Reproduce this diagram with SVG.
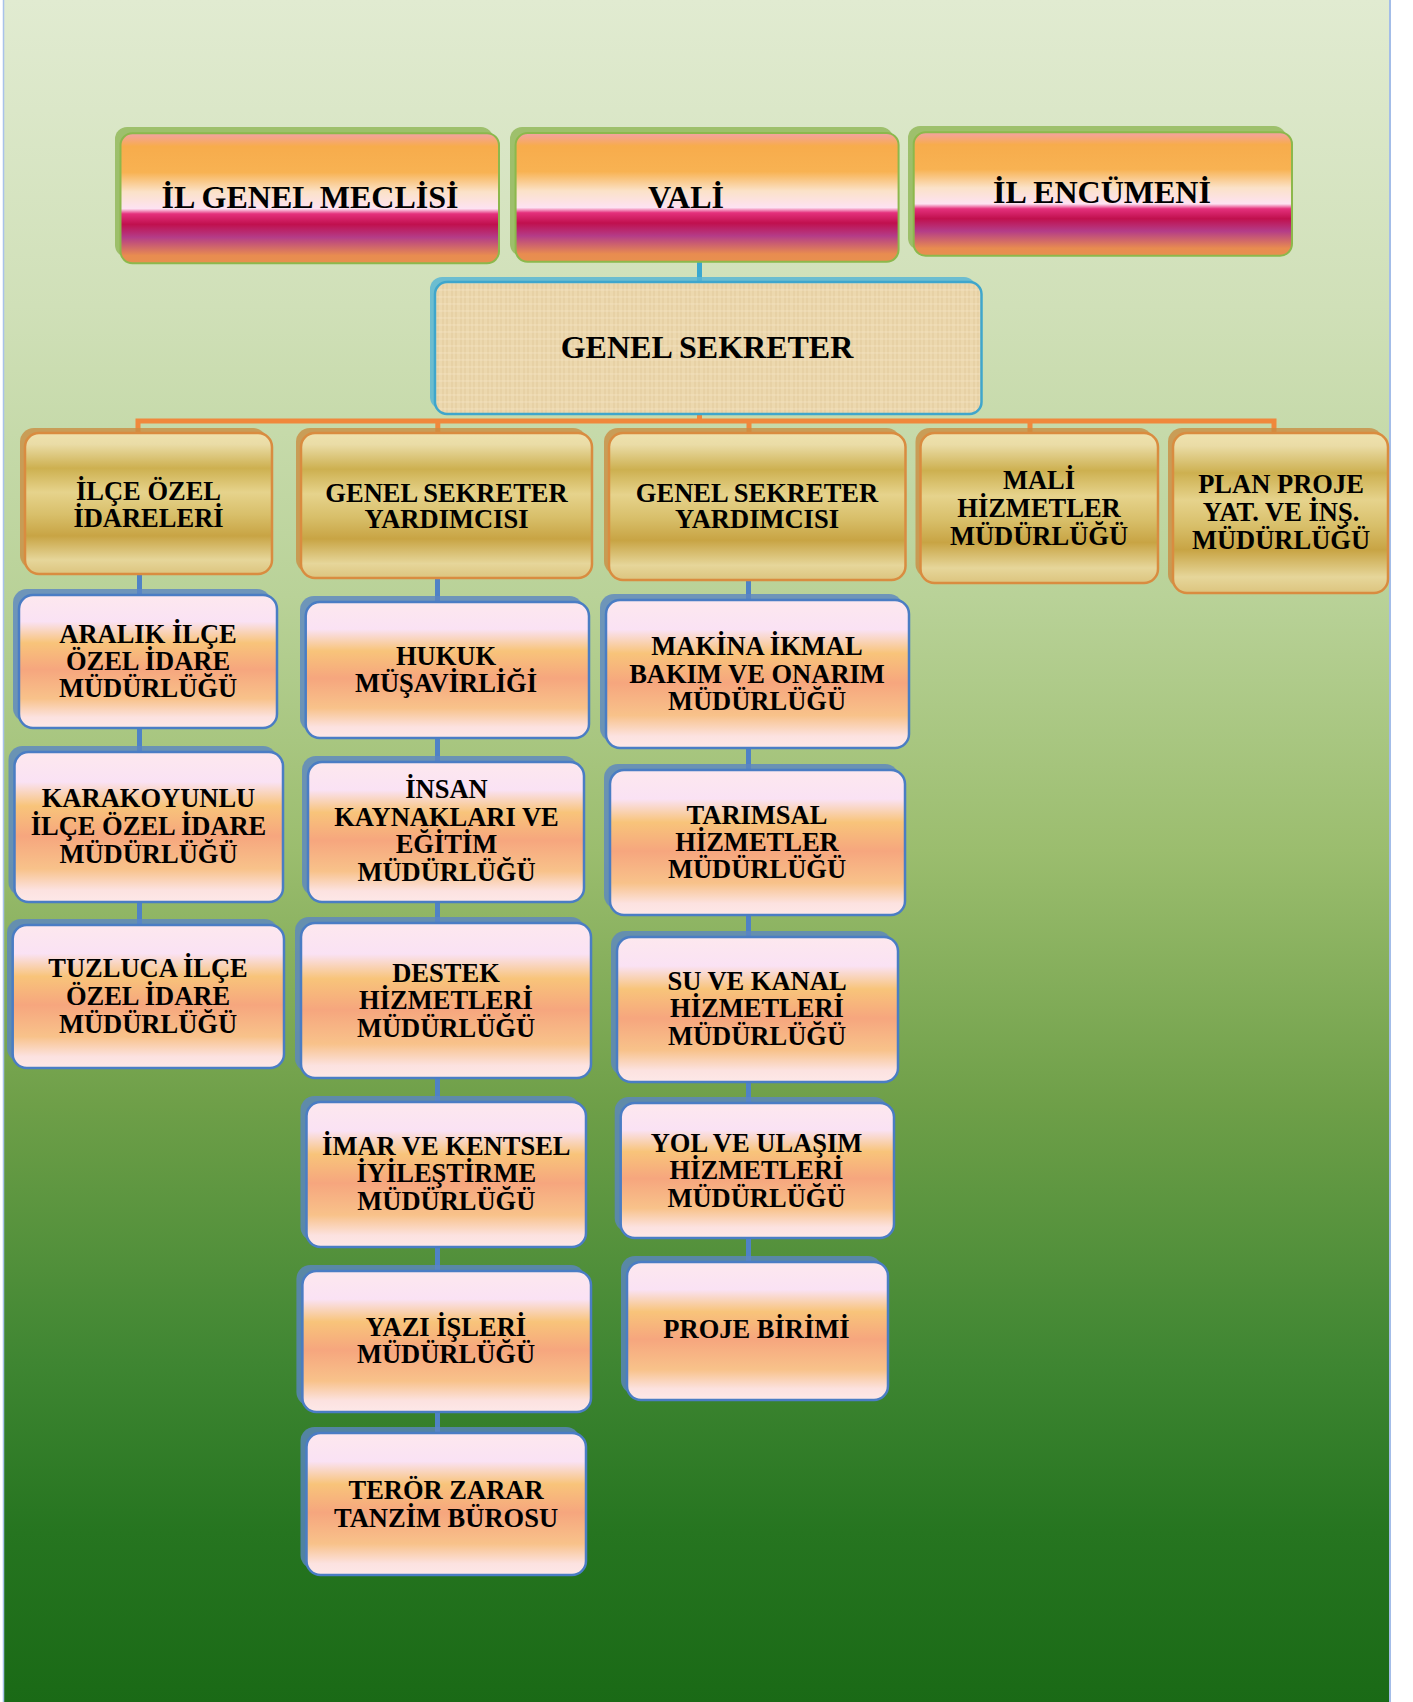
<svg xmlns="http://www.w3.org/2000/svg" width="1413" height="1702" viewBox="0 0 1413 1702">
<defs>
<linearGradient id="gBg" x1="0" y1="0" x2="0" y2="1">
<stop offset="0" stop-color="#e1ebd1"/>
<stop offset="0.18" stop-color="#d0e0b8"/>
<stop offset="0.35" stop-color="#b9d298"/>
<stop offset="0.5" stop-color="#9bbd6e"/>
<stop offset="0.65" stop-color="#6e9f48"/>
<stop offset="0.8" stop-color="#3f8632"/>
<stop offset="0.9" stop-color="#267520"/>
<stop offset="1" stop-color="#1a6a16"/>
</linearGradient>
<linearGradient id="gTop" x1="0" y1="0" x2="0" y2="1">
<stop offset="0" stop-color="#f4a2a4"/>
<stop offset="0.1" stop-color="#f7ac4c"/>
<stop offset="0.3" stop-color="#f8b252"/>
<stop offset="0.45" stop-color="#fbe2c8"/>
<stop offset="0.58" stop-color="#fde2f2"/>
<stop offset="0.62" stop-color="#e4307c"/>
<stop offset="0.7" stop-color="#c0104e"/>
<stop offset="0.8" stop-color="#b43c88"/>
<stop offset="0.94" stop-color="#e88c50"/>
<stop offset="1" stop-color="#e8904e"/>
</linearGradient>
<linearGradient id="gGold" x1="0" y1="0" x2="0" y2="1">
<stop offset="0" stop-color="#efe2ae"/>
<stop offset="0.08" stop-color="#eadca6"/>
<stop offset="0.25" stop-color="#cdb050"/>
<stop offset="0.42" stop-color="#e6d38c"/>
<stop offset="0.58" stop-color="#d8bf6a"/>
<stop offset="0.73" stop-color="#c8a444"/>
<stop offset="0.9" stop-color="#e6d69a"/>
<stop offset="1" stop-color="#dcc47e"/>
</linearGradient>
<linearGradient id="gPink" x1="0" y1="0" x2="0" y2="1">
<stop offset="0" stop-color="#fde8ee"/>
<stop offset="0.2" stop-color="#fae2f4"/>
<stop offset="0.36" stop-color="#f8c47a"/>
<stop offset="0.56" stop-color="#f6a67e"/>
<stop offset="0.78" stop-color="#f8c28a"/>
<stop offset="0.92" stop-color="#fce2e0"/>
<stop offset="1" stop-color="#fde8e8"/>
</linearGradient>
<pattern id="pPap" width="9" height="7" patternUnits="userSpaceOnUse">
<rect width="9" height="7" fill="#ecd8ae"/>
<path d="M2 0V7M6 0V7" stroke="#d6bc88" stroke-width="0.8" opacity="0.6"/>
<path d="M0 3H9" stroke="#f4e4c4" stroke-width="1" opacity="0.7"/>
</pattern>
<style>
.t{font-family:"Liberation Serif","Times New Roman",serif;font-weight:bold;text-anchor:middle;fill:#000;font-size:26.5px}
.tb{font-size:32px}
.top{fill:url(#gTop);stroke:#8cb84c;stroke-width:2}
.topS{fill:#93b95c;opacity:0.85}
.gold{fill:url(#gGold);stroke:#d98c40;stroke-width:2.5}
.goldS{fill:#c98d42;opacity:0.8}
.pink{fill:url(#gPink);stroke:#4a7dc4;stroke-width:2.5}
.pinkS{fill:#5b86c2;opacity:0.8}
.gs{fill:url(#pPap);stroke:#3fa6cc;stroke-width:2.5}
.gsS{fill:#5ab6d4;opacity:0.85}
.cb{stroke:#4f82c6;stroke-width:5;fill:none}
.co{stroke:#f0883c;stroke-width:5;fill:none}
.ct{stroke:#3aa8d0;stroke-width:5;fill:none}
</style>
</defs>
<rect x="0" y="0" width="1413" height="1702" fill="#ffffff"/>
<rect x="4" y="0" width="1386" height="1702" fill="url(#gBg)"/>
<line x1="3.5" y1="0" x2="3.5" y2="1702" stroke="#a9c2ea" stroke-width="1.5"/>
<line x1="1390" y1="0" x2="1390" y2="1702" stroke="#a3bde8" stroke-width="2"/>

<g id="connectors">
<path class="ct" d="M699.5 258V286"/>
<path class="co" d="M699.5 410V421"/>
<path class="co" d="M138 432V421H1274V432M437.8 421V434M749 421V434M1030 421V434"/>
<path class="cb" d="M139.5 570V598M139.5 724V755M139.5 898V928"/>
<path class="cb" d="M437.5 574V605M437.5 734V765M437.5 898V926M437.5 1074V1105M437.5 1243V1274M437.5 1408V1436"/>
<path class="cb" d="M748.5 576V603M748.5 744V773M748.5 911V940M748.5 1078V1106M748.5 1234V1265"/>
</g>

<g id="il-genel-meclisi">
<rect class="topS" x="115" y="127" width="378" height="130" rx="12"/>
<rect class="top" x="120.5" y="133.3" width="378.5" height="130" rx="12"/>
<text class="t tb" x="310" y="208.3">İL GENEL MECLİSİ</text>
</g>
<g id="vali">
<rect class="topS" x="510" y="127" width="383" height="129" rx="12"/>
<rect class="top" x="515.6" y="133" width="383" height="128.7" rx="12"/>
<text class="t tb" x="686" y="208">VALİ</text>
</g>
<g id="il-encumeni">
<rect class="topS" x="908" y="126" width="378" height="124" rx="12"/>
<rect class="top" x="913.7" y="132.3" width="378.3" height="123.4" rx="12"/>
<text class="t tb" x="1102" y="203.3">İL ENCÜMENİ</text>
</g>

<g id="genel-sekreter">
<rect class="gsS" x="430" y="277" width="546" height="132" rx="12"/>
<rect class="gs" x="435" y="282" width="546.5" height="132" rx="12"/>
<text class="t tb" x="707" y="358">GENEL SEKRETER</text>
</g>

<g id="ilce-ozel-idareleri">
<rect class="goldS" x="20" y="428" width="247" height="141" rx="14"/>
<rect class="gold" x="25" y="433" width="247" height="141" rx="14"/>
<text class="t"><tspan x="148.5" y="499.5">İLÇE ÖZEL</tspan><tspan x="148.5" y="526.7">İDARELERİ</tspan></text>
</g>
<g id="gsy-1">
<rect class="goldS" x="296" y="428" width="291" height="145" rx="14"/>
<rect class="gold" x="301" y="433" width="291" height="145" rx="14"/>
<text class="t"><tspan x="446.5" y="501.7">GENEL SEKRETER</tspan><tspan x="446.5" y="528.3">YARDIMCISI</tspan></text>
</g>
<g id="gsy-2">
<rect class="goldS" x="604" y="428" width="296.5" height="147" rx="14"/>
<rect class="gold" x="609" y="433" width="296.5" height="147" rx="14"/>
<text class="t"><tspan x="757" y="501.7">GENEL SEKRETER</tspan><tspan x="757" y="528.3">YARDIMCISI</tspan></text>
</g>
<g id="mali">
<rect class="goldS" x="915.5" y="428" width="237.5" height="150" rx="14"/>
<rect class="gold" x="920.5" y="433" width="237.5" height="150" rx="14"/>
<text class="t"><tspan x="1039" y="489.3">MALİ</tspan><tspan x="1039" y="517.3">HİZMETLER</tspan><tspan x="1039" y="545">MÜDÜRLÜĞÜ</tspan></text>
</g>
<g id="plan-proje">
<rect class="goldS" x="1168" y="428" width="215" height="160" rx="14"/>
<rect class="gold" x="1173" y="433" width="215" height="160" rx="14"/>
<text class="t"><tspan x="1281" y="493.3">PLAN PROJE</tspan><tspan x="1281" y="520.7">YAT. VE İNŞ.</tspan><tspan x="1281" y="549.3">MÜDÜRLÜĞÜ</tspan></text>
</g>

<g id="aralik">
<rect class="pinkS" x="13" y="589" width="258" height="133" rx="14"/>
<rect class="pink" x="19" y="595" width="258" height="133" rx="14"/>
<text class="t"><tspan x="148" y="642.7">ARALIK İLÇE</tspan><tspan x="148" y="670">ÖZEL İDARE</tspan><tspan x="148" y="696.7">MÜDÜRLÜĞÜ</tspan></text>
</g>
<g id="karakoyunlu">
<rect class="pinkS" x="8.5" y="746" width="268.5" height="150" rx="14"/>
<rect class="pink" x="14.5" y="752" width="268.5" height="150" rx="14"/>
<text class="t"><tspan x="148.5" y="806.7">KARAKOYUNLU</tspan><tspan x="148.5" y="835">İLÇE ÖZEL İDARE</tspan><tspan x="148.5" y="862.7">MÜDÜRLÜĞÜ</tspan></text>
</g>
<g id="tuzluca">
<rect class="pinkS" x="7" y="919" width="271.3" height="143" rx="14"/>
<rect class="pink" x="12.7" y="925" width="271.3" height="143" rx="14"/>
<text class="t"><tspan x="148" y="976.7">TUZLUCA İLÇE</tspan><tspan x="148" y="1005">ÖZEL İDARE</tspan><tspan x="148" y="1032.7">MÜDÜRLÜĞÜ</tspan></text>
</g>

<g id="hukuk">
<rect class="pinkS" x="300" y="596" width="283.3" height="136" rx="14"/>
<rect class="pink" x="305.7" y="602" width="283.3" height="136" rx="14"/>
<text class="t"><tspan x="446" y="665">HUKUK</tspan><tspan x="446" y="691.7">MÜŞAVİRLİĞİ</tspan></text>
</g>
<g id="insan-kaynaklari">
<rect class="pinkS" x="302" y="756" width="276" height="140" rx="14"/>
<rect class="pink" x="308" y="762" width="276" height="140" rx="14"/>
<text class="t"><tspan x="446.5" y="798.3">İNSAN</tspan><tspan x="446.5" y="826">KAYNAKLARI VE</tspan><tspan x="446.5" y="853.3">EĞİTİM</tspan><tspan x="446.5" y="881">MÜDÜRLÜĞÜ</tspan></text>
</g>
<g id="destek">
<rect class="pinkS" x="295" y="917" width="290" height="155" rx="14"/>
<rect class="pink" x="301" y="923" width="290" height="155" rx="14"/>
<text class="t"><tspan x="446" y="981.7">DESTEK</tspan><tspan x="446" y="1009.3">HİZMETLERİ</tspan><tspan x="446" y="1036.7">MÜDÜRLÜĞÜ</tspan></text>
</g>
<g id="imar">
<rect class="pinkS" x="300.5" y="1096" width="279.5" height="145" rx="14"/>
<rect class="pink" x="306.5" y="1102" width="279.5" height="145" rx="14"/>
<text class="t"><tspan x="446.3" y="1155">İMAR VE KENTSEL</tspan><tspan x="446.3" y="1181.7">İYİLEŞTİRME</tspan><tspan x="446.3" y="1210">MÜDÜRLÜĞÜ</tspan></text>
</g>
<g id="yazi-isleri">
<rect class="pinkS" x="296.4" y="1265" width="288.6" height="141" rx="14"/>
<rect class="pink" x="302.4" y="1271" width="288.6" height="141" rx="14"/>
<text class="t"><tspan x="446" y="1336">YAZI İŞLERİ</tspan><tspan x="446" y="1363.3">MÜDÜRLÜĞÜ</tspan></text>
</g>
<g id="teror">
<rect class="pinkS" x="300.5" y="1427" width="279.5" height="142" rx="14"/>
<rect class="pink" x="306.5" y="1433" width="279.5" height="142" rx="14"/>
<text class="t"><tspan x="446" y="1499">TERÖR ZARAR</tspan><tspan x="446" y="1526.7">TANZİM BÜROSU</tspan></text>
</g>

<g id="makina">
<rect class="pinkS" x="600" y="594" width="303" height="148" rx="14"/>
<rect class="pink" x="606" y="600" width="303" height="148" rx="14"/>
<text class="t"><tspan x="757" y="655">MAKİNA İKMAL</tspan><tspan x="757" y="683.3">BAKIM VE ONARIM</tspan><tspan x="757" y="710">MÜDÜRLÜĞÜ</tspan></text>
</g>
<g id="tarimsal">
<rect class="pinkS" x="604" y="764" width="295" height="145" rx="14"/>
<rect class="pink" x="610" y="770" width="295" height="145" rx="14"/>
<text class="t"><tspan x="757" y="824">TARIMSAL</tspan><tspan x="757" y="850.7">HİZMETLER</tspan><tspan x="757" y="878.3">MÜDÜRLÜĞÜ</tspan></text>
</g>
<g id="su-kanal">
<rect class="pinkS" x="611" y="931" width="281" height="145" rx="14"/>
<rect class="pink" x="617" y="937" width="281" height="145" rx="14"/>
<text class="t"><tspan x="757" y="990">SU VE KANAL</tspan><tspan x="757" y="1017.3">HİZMETLERİ</tspan><tspan x="757" y="1045">MÜDÜRLÜĞÜ</tspan></text>
</g>
<g id="yol-ulasim">
<rect class="pinkS" x="614.7" y="1097" width="273.3" height="135" rx="14"/>
<rect class="pink" x="620.7" y="1103" width="273.3" height="135" rx="14"/>
<text class="t"><tspan x="756.5" y="1151.7">YOL VE ULAŞIM</tspan><tspan x="756.5" y="1179.3">HİZMETLERİ</tspan><tspan x="756.5" y="1206.7">MÜDÜRLÜĞÜ</tspan></text>
</g>
<g id="proje-birimi">
<rect class="pinkS" x="621" y="1256" width="261" height="138" rx="14"/>
<rect class="pink" x="627" y="1262" width="261" height="138" rx="14"/>
<text class="t" x="756.5" y="1338.3">PROJE BİRİMİ</text>
</g>
</svg>
